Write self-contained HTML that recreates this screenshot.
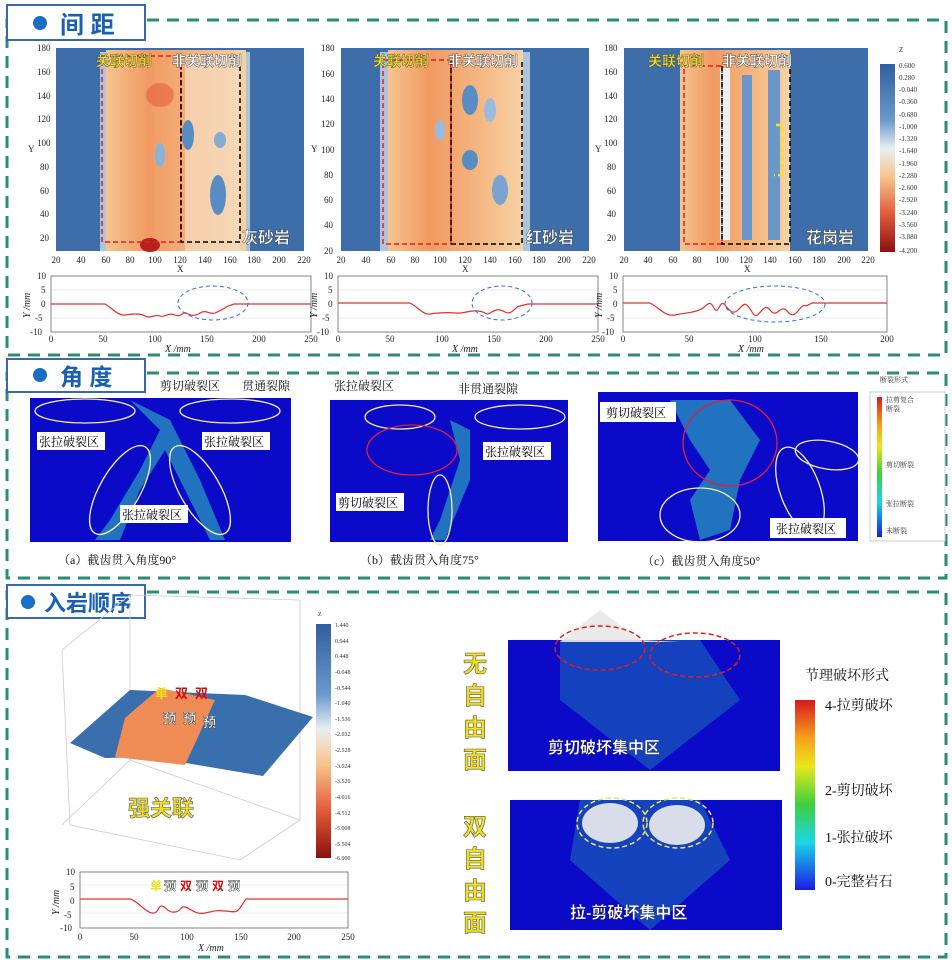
<!DOCTYPE html>
<html><head><meta charset="utf-8"><style>
body{margin:0;background:#fff;}
svg{display:block;font-family:"Liberation Serif","Noto Serif CJK SC",serif;}
.h{font-family:"Liberation Sans","Noto Sans CJK SC",sans-serif;font-weight:bold;}
.t{font-size:9px;fill:#222}
.c{font-family:"Liberation Serif","Noto Serif CJK SC",serif;}
.m{text-anchor:middle}
</style></head><body>
<svg width="952" height="960" viewBox="0 0 952 960" xmlns="http://www.w3.org/2000/svg">
<defs>
<linearGradient id="or" x1="0" x2="1" y1="0" y2="0">
<stop offset="0" stop-color="#f6c48e"/><stop offset="0.3" stop-color="#f19a63"/><stop offset="0.6" stop-color="#f4b07a"/><stop offset="1" stop-color="#f7d3a6"/></linearGradient>
<linearGradient id="cbz" x1="0" x2="0" y1="0" y2="1">
<stop offset="0" stop-color="#2f5f9e"/><stop offset="0.3" stop-color="#6a9acb"/><stop offset="0.45" stop-color="#e9eef2"/><stop offset="0.6" stop-color="#f7c48a"/><stop offset="0.8" stop-color="#e05a3a"/><stop offset="1" stop-color="#8a1010"/></linearGradient>
<linearGradient id="jet" x1="0" x2="0" y1="0" y2="1">
<stop offset="0" stop-color="#d7191c"/><stop offset="0.2" stop-color="#f9a01b"/><stop offset="0.35" stop-color="#e8e81a"/><stop offset="0.55" stop-color="#3fcf3f"/><stop offset="0.75" stop-color="#1ad7e6"/><stop offset="1" stop-color="#1a1ae6"/></linearGradient>
</defs>

<rect x="7" y="20" width="939" height="335" fill="none" stroke="#2e8b74" stroke-width="3" stroke-dasharray="12,8"/>
<rect x="7" y="373" width="939" height="205" fill="none" stroke="#2e8b74" stroke-width="3" stroke-dasharray="12,8"/>
<rect x="7" y="592" width="939" height="365" fill="none" stroke="#2e8b74" stroke-width="3" stroke-dasharray="12,8"/>

<g>
<rect x="7" y="5" width="138" height="35" fill="#fff" stroke="#3a68a8" stroke-width="2"/>
<circle cx="40" cy="23" r="7" fill="#1a6fc4"/>
<text x="60" y="33" class="h" font-size="24" fill="#1a5fb0">间 距</text>
<rect x="7" y="359" width="138" height="33" fill="#fff" stroke="#3a68a8" stroke-width="2"/>
<circle cx="40" cy="375" r="7" fill="#1a6fc4"/>
<text x="60" y="385" class="h" font-size="23" fill="#1a5fb0">角 度</text>
<rect x="7" y="585" width="138" height="33" fill="#fff" stroke="#3a68a8" stroke-width="2"/>
<circle cx="28" cy="602" r="7" fill="#1a6fc4"/>
<text x="44" y="611" class="h" font-size="22" fill="#1a5fb0">入岩顺序</text>
</g>

<!-- heatmaps -->
<g>
<rect x="56" y="48" width="248" height="203" fill="#3d6eaa"/>
<rect x="100" y="52" width="150" height="199" fill="#c9dbe9" opacity="0.8"/>
<rect x="106" y="50" width="140" height="201" fill="url(#or)"/>
<rect x="185" y="55" width="55" height="196" fill="#f7dcc0" opacity="0.7"/>
<ellipse cx="218" cy="195" rx="8" ry="20" fill="#5a8cc4"/><ellipse cx="188" cy="135" rx="6" ry="15" fill="#5a8cc4"/><ellipse cx="220" cy="140" rx="6" ry="8" fill="#86acd5"/><ellipse cx="160" cy="155" rx="5" ry="12" fill="#8ab2da"/>
<ellipse cx="160" cy="95" rx="14" ry="12" fill="#e5603c" opacity="0.6"/><ellipse cx="150" cy="245" rx="10" ry="7" fill="#b82020"/>
<rect x="102" y="56" width="79" height="186" fill="none" stroke="#e02020" stroke-width="1.5" stroke-dasharray="5,3"/>
<path d="M181 56V242H240V56" fill="none" stroke="#000" stroke-width="1.5" stroke-dasharray="5,3"/>
<text x="96" y="66" class="h" font-size="14" fill="#f0e020" stroke="#444" stroke-width="0.4">关联切削</text>
<text x="172" y="66" class="h" font-size="14" fill="#fff" stroke="#333" stroke-width="0.4">非关联切削</text>
<text x="242" y="243" class="h" font-size="16" fill="#fff" stroke="#333" stroke-width="0.4">灰砂岩</text>
</g>
<g>
<rect x="341" y="48" width="248" height="203" fill="#3d6eaa"/>
<rect x="380" y="52" width="150" height="199" fill="#c9dbe9" opacity="0.8"/>
<rect x="388" y="50" width="135" height="201" fill="url(#or)"/>
<ellipse cx="470" cy="100" rx="8" ry="15" fill="#5a8cc4"/><ellipse cx="470" cy="160" rx="8" ry="10" fill="#5a8cc4"/><ellipse cx="500" cy="190" rx="8" ry="15" fill="#7aa3d0"/><ellipse cx="440" cy="130" rx="5" ry="10" fill="#9abbe0"/><ellipse cx="490" cy="110" rx="6" ry="12" fill="#9abbe0"/>
<rect x="383" y="60" width="68" height="184" fill="none" stroke="#e02020" stroke-width="1.5" stroke-dasharray="5,3"/>
<path d="M451 60V244H522V60" fill="none" stroke="#000" stroke-width="1.5" stroke-dasharray="5,3"/>
<text x="373" y="66" class="h" font-size="14" fill="#f0e020" stroke="#444" stroke-width="0.4">关联切削</text>
<text x="448" y="66" class="h" font-size="14" fill="#fff" stroke="#333" stroke-width="0.4">非关联切削</text>
<text x="526" y="243" class="h" font-size="16" fill="#fff" stroke="#333" stroke-width="0.4">红砂岩</text>
</g>
<g>
<rect x="624" y="48" width="244" height="203" fill="#3d6eaa"/>
<rect x="680" y="50" width="110" height="201" fill="url(#or)"/>
<rect x="720" y="68" width="10" height="172" fill="#e9f0f6"/><rect x="742" y="75" width="10" height="165" fill="#6a97c8"/><rect x="768" y="70" width="12" height="170" fill="#6a97c8"/>
<rect x="684" y="66" width="38" height="178" fill="none" stroke="#e02020" stroke-width="1.5" stroke-dasharray="5,3"/>
<path d="M722 66V244H790V66" fill="none" stroke="#000" stroke-width="1.5" stroke-dasharray="5,3"/>
<path d="M776 125H782V175H774" fill="none" stroke="#f5e020" stroke-width="2.5" stroke-dasharray="6,3"/>
<text x="648" y="66" class="h" font-size="14" fill="#f0e020" stroke="#444" stroke-width="0.4">关联切削</text>
<text x="722" y="66" class="h" font-size="14" fill="#fff" stroke="#333" stroke-width="0.4">非关联切削</text>
<text x="806" y="243" class="h" font-size="16" fill="#fff" stroke="#333" stroke-width="0.4">花岗岩</text>
</g>
<g class="t" font-size="8">
<text x="37" y="51">180</text><text x="37" y="75">160</text><text x="37" y="99">140</text><text x="37" y="122">120</text><text x="37" y="146">100</text><text x="40" y="170">80</text><text x="40" y="194">60</text><text x="40" y="217">40</text><text x="40" y="241">20</text>
<text x="28" y="152">Y</text>
<g class="m"><text x="56" y="263">20</text><text x="81" y="263">40</text><text x="106" y="263">60</text><text x="130" y="263">80</text><text x="155" y="263">100</text><text x="180" y="263">120</text><text x="205" y="263">140</text><text x="230" y="263">160</text><text x="254" y="263">180</text><text x="279" y="263">200</text><text x="304" y="263">220</text></g>
<text x="177" y="272">X</text>
<text x="321" y="51">180</text><text x="321" y="77">160</text><text x="321" y="102">140</text><text x="321" y="127">120</text><text x="321" y="153">100</text><text x="324" y="178">80</text><text x="324" y="203">60</text><text x="324" y="228">40</text><text x="324" y="254">20</text>
<text x="311" y="152">Y</text>
<g class="m"><text x="341" y="263">20</text><text x="366" y="263">40</text><text x="391" y="263">60</text><text x="415" y="263">80</text><text x="440" y="263">100</text><text x="465" y="263">120</text><text x="490" y="263">140</text><text x="515" y="263">160</text><text x="539" y="263">180</text><text x="564" y="263">200</text><text x="589" y="263">220</text></g>
<text x="462" y="272">X</text>
<text x="604" y="51">180</text><text x="604" y="75">160</text><text x="604" y="99">140</text><text x="604" y="122">120</text><text x="604" y="146">100</text><text x="607" y="170">80</text><text x="607" y="194">60</text><text x="607" y="217">40</text><text x="607" y="241">20</text>
<text x="595" y="152">Y</text>
<g class="m"><text x="624" y="263">20</text><text x="648" y="263">40</text><text x="673" y="263">60</text><text x="697" y="263">80</text><text x="722" y="263">100</text><text x="746" y="263">120</text><text x="770" y="263">140</text><text x="795" y="263">160</text><text x="819" y="263">180</text><text x="844" y="263">200</text><text x="868" y="263">220</text></g>
<text x="744" y="272">X</text>
</g>
<rect x="880" y="64" width="15" height="188" fill="url(#cbz)"/>
<g font-size="7" fill="#333">
<text x="899" y="52">Z</text>
<text x="899" y="68">0.600</text><text x="899" y="80">0.280</text><text x="899" y="92">-0.040</text><text x="899" y="104">-0.360</text><text x="899" y="117">-0.680</text><text x="899" y="129">-1.000</text><text x="899" y="141">-1.320</text><text x="899" y="153">-1.640</text><text x="899" y="166">-1.960</text><text x="899" y="178">-2.280</text><text x="899" y="190">-2.600</text><text x="899" y="202">-2.920</text><text x="899" y="215">-3.240</text><text x="899" y="227">-3.560</text><text x="899" y="239">-3.880</text><text x="899" y="253">-4.200</text>
</g>

<!-- line plots -->
<g fill="none">
<g stroke="#ddd" stroke-width="0.5"><path d="M51 290H311M51 318H311M338 290H598M338 318H598M623 290H887M623 318H887"/></g>
<rect x="51" y="276" width="260" height="56" stroke="#666" stroke-width="0.8"/>
<path d="M51 304H105C112 308 118 316 125 315S140 313 145 316S155 314 160 316S168 312 175 315S182 311 186 313S194 317 200 313S210 315 215 313S222 310 228 306L234 304H311" stroke="#e03030" stroke-width="1.2"/>
<ellipse cx="213" cy="303" rx="35" ry="17" stroke="#3070e0" stroke-dasharray="4,3"/>
<rect x="338" y="276" width="260" height="56" stroke="#666" stroke-width="0.8"/>
<path d="M338 303H410C418 307 423 315 430 314S445 312 455 313S468 310 478 311S485 316 490 313S498 308 505 312S515 306 520 306L528 304H598" stroke="#e03030" stroke-width="1.2"/>
<ellipse cx="502" cy="303" rx="30" ry="17" stroke="#3070e0" stroke-dasharray="4,3"/>
<rect x="623" y="276" width="264" height="56" stroke="#666" stroke-width="0.8"/>
<path d="M623 303H650C660 308 665 317 675 315S698 312 703 308S710 300 714 308S720 300 724 304S732 316 738 310S745 300 752 312S762 300 770 310S780 302 788 312S800 302 806 306L812 303H887" stroke="#e03030" stroke-width="1.2"/>
<ellipse cx="775" cy="304" rx="50" ry="18" stroke="#3070e0" stroke-dasharray="4,3"/>
</g>
<g class="t" font-size="8">
<text x="37" y="279">10</text><text x="41" y="293">5</text><text x="41" y="307">0</text><text x="35" y="321">-5</text><text x="30" y="335">-10</text>
<g class="m"><text x="51" y="342">0</text><text x="103" y="342">50</text><text x="155" y="342">100</text><text x="207" y="342">150</text><text x="259" y="342">200</text><text x="311" y="342">250</text></g>
<text x="165" y="352" font-style="italic" font-size="10">X /mm</text>
<text x="324" y="279">10</text><text x="328" y="293">5</text><text x="328" y="307">0</text><text x="322" y="321">-5</text><text x="317" y="335">-10</text>
<g class="m"><text x="338" y="342">0</text><text x="390" y="342">50</text><text x="442" y="342">100</text><text x="494" y="342">150</text><text x="546" y="342">200</text><text x="598" y="342">250</text></g>
<text x="452" y="352" font-style="italic" font-size="10">X /mm</text>
<text x="609" y="279">10</text><text x="613" y="293">5</text><text x="613" y="307">0</text><text x="607" y="321">-5</text><text x="602" y="335">-10</text>
<g class="m"><text x="623" y="342">0</text><text x="689" y="342">50</text><text x="755" y="342">100</text><text x="821" y="342">150</text><text x="887" y="342">200</text></g>
<text x="738" y="352" font-style="italic" font-size="10">X /mm</text>
<g transform="rotate(-90)" font-style="italic" font-size="10"><text x="-318" y="30">Y /mm</text><text x="-318" y="317">Y /mm</text><text x="-318" y="602">Y /mm</text></g>
</g>

<!-- section 2 -->
<rect x="30" y="398" width="261" height="144" fill="#0a0ac8"/>
<rect x="330" y="400" width="238" height="142" fill="#0a0ac8"/>
<rect x="598" y="392" width="260" height="149" fill="#0a0ac8"/>
<g fill="#35c8b8" opacity="0.55">
<path d="M130 400L160 430L140 470L110 520L95 540L120 540L140 490L165 450L190 500L210 540L225 540L200 480L170 420Z"/>
<path d="M420 405L450 420L460 460L440 520L430 540L445 540L470 480L470 430Z"/>
<path d="M670 400L730 400L760 440L740 480L730 530L700 540L690 500L710 470L690 440Z"/>
</g>
<g fill="none" stroke-width="1.3">
<ellipse cx="85" cy="411" rx="50" ry="12" stroke="#f0f0a0"/><ellipse cx="230" cy="411" rx="50" ry="12" stroke="#f0f0a0"/>
<ellipse cx="120" cy="490" rx="20" ry="50" stroke="#f0f0a0" transform="rotate(30 120 490)"/><ellipse cx="200" cy="490" rx="20" ry="50" stroke="#f0f0a0" transform="rotate(-30 200 490)"/>
<ellipse cx="400" cy="417" rx="35" ry="12" stroke="#f0f0a0"/><ellipse cx="520" cy="417" rx="45" ry="12" stroke="#f0f0a0"/>
<ellipse cx="440" cy="510" rx="12" ry="35" stroke="#f0f0a0"/><ellipse cx="412" cy="450" rx="45" ry="25" stroke="#e02040"/>
<ellipse cx="730" cy="443" rx="47" ry="43" stroke="#e02040"/><ellipse cx="700" cy="515" rx="40" ry="27" stroke="#f0f0a0"/><ellipse cx="800" cy="490" rx="20" ry="45" stroke="#f0f0a0" transform="rotate(-20 800 490)"/><ellipse cx="827" cy="455" rx="32" ry="14" stroke="#f0f0a0" transform="rotate(10 827 455)"/>
</g>
<g class="c" font-size="12">
<rect x="37" y="432" width="68" height="18" fill="#fff"/><text x="39" y="446" fill="#000">张拉破裂区</text>
<rect x="202" y="432" width="68" height="18" fill="#fff"/><text x="204" y="446" fill="#000">张拉破裂区</text>
<rect x="120" y="505" width="68" height="18" fill="#fff"/><text x="122" y="519" fill="#000">张拉破裂区</text>
<rect x="483" y="442" width="68" height="18" fill="#fff"/><text x="485" y="456" fill="#000">张拉破裂区</text>
<rect x="336" y="493" width="68" height="18" fill="#fff"/><text x="338" y="507" fill="#000">剪切破裂区</text>
<rect x="600" y="402" width="76" height="20" fill="#fff"/><text x="606" y="417" fill="#000">剪切破裂区</text>
<rect x="770" y="518" width="76" height="20" fill="#fff"/><text x="776" y="533" fill="#000">张拉破裂区</text>
</g>
<g class="c" font-size="12" fill="#111">
<text x="160" y="390">剪切破裂区</text><text x="242" y="390">贯通裂隙</text>
<text x="334" y="390">张拉破裂区</text><text x="458" y="393">非贯通裂隙</text>
<text x="58" y="564">（a）截齿贯入角度90°</text>
<text x="360" y="564">（b）截齿贯入角度75°</text>
<text x="642" y="565">（c）截齿贯入角度50°</text>
</g>
<rect x="870" y="392" width="75" height="149" fill="#fff" stroke="#ccc"/>
<rect x="877" y="397" width="5" height="140" fill="url(#jet)"/>
<g class="c" font-size="7" fill="#333"><text x="880" y="382">断裂形式</text><text x="886" y="402">拉剪复合</text><text x="886" y="411">断裂</text><text x="886" y="467">剪切断裂</text><text x="886" y="506">张拉断裂</text><text x="886" y="533">未断裂</text></g>

<!-- section 3 -->
<g stroke="#ccc" fill="none" stroke-width="0.8">
<path d="M62 650L130 595L300 600L300 820L240 860L70 825Z"/>
<path d="M130 595L130 760L300 820M130 760L62 825"/>
</g>
<path d="M70 743L130 690L245 695L313 717L263 776L150 757L105 758Z" fill="#3a6fae"/>
<path d="M125 718L160 688L215 700L185 765L115 757Z" fill="#ef8c55"/>
<text x="128" y="816" class="h" font-size="22" fill="#f2e020" stroke="#555" stroke-width="0.6">强关联</text>
<g class="h" font-size="13"><text x="155" y="698" fill="#f0e020">单</text><text x="175" y="698" fill="#d01010">双</text><text x="195" y="698" fill="#d01010">双</text><text x="163" y="723" fill="#fff" stroke="#333" stroke-width="0.4">预</text><text x="183" y="723" fill="#fff" stroke="#333" stroke-width="0.4">预</text><text x="203" y="727" fill="#fff" stroke="#333" stroke-width="0.4">预</text></g>
<rect x="316" y="624" width="15" height="234" fill="url(#cbz)"/>
<g font-size="6" fill="#333"><text x="318" y="616">Z</text>
<text x="335" y="627">1.440</text><text x="335" y="643">0.944</text><text x="335" y="658">0.448</text><text x="335" y="674">-0.048</text><text x="335" y="690">-0.544</text><text x="335" y="705">-1.040</text><text x="335" y="721">-1.536</text><text x="335" y="736">-2.032</text><text x="335" y="752">-2.528</text><text x="335" y="768">-3.024</text><text x="335" y="783">-3.520</text><text x="335" y="799">-4.016</text><text x="335" y="815">-4.512</text><text x="335" y="830">-5.008</text><text x="335" y="846">-5.504</text><text x="335" y="860">-6.000</text></g>
<g stroke="#ddd" stroke-width="0.5"><path d="M80 885H348M80 913H348"/></g>
<rect x="80" y="872" width="268" height="56" fill="none" stroke="#666" stroke-width="0.8"/>
<path d="M80 899H130C138 901 145 912 152 913S158 905 162 906S168 913 175 912S180 906 185 907S195 915 205 913S215 910 225 911S236 913 240 908L246 899H348" fill="none" stroke="#e03030" stroke-width="1.2"/>
<g class="h" font-size="12"><text x="150" y="890" fill="#f0e020">单</text><text x="164" y="890" fill="#fff" stroke="#333" stroke-width="0.4">预</text><text x="180" y="890" fill="#d01010">双</text><text x="196" y="890" fill="#fff" stroke="#333" stroke-width="0.4">预</text><text x="212" y="890" fill="#d01010">双</text><text x="228" y="890" fill="#fff" stroke="#333" stroke-width="0.4">预</text></g>
<g class="t" font-size="8"><text x="66" y="875">10</text><text x="70" y="890">5</text><text x="70" y="904">0</text><text x="64" y="918">-5</text><text x="60" y="931">-10</text>
<g class="m"><text x="80" y="940">0</text><text x="134" y="940">50</text><text x="187" y="940">100</text><text x="241" y="940">150</text><text x="294" y="940">200</text><text x="348" y="940">250</text></g>
<text x="198" y="951" font-style="italic" font-size="10">X /mm</text>
<text transform="rotate(-90)" x="-915" y="59" font-style="italic" font-size="10">Y /mm</text></g>

<g class="h" font-size="24" fill="#f2e020" stroke="#555" stroke-width="0.6">
<text x="463" y="672">无</text><text x="463" y="704">自</text><text x="463" y="736">由</text><text x="463" y="768">面</text>
<text x="463" y="835">双</text><text x="463" y="867">自</text><text x="463" y="899">由</text><text x="463" y="931">面</text>
</g>
<rect x="508" y="640" width="272" height="131" fill="#0a0ac8"/>
<rect x="510" y="800" width="272" height="130" fill="#0a0ac8"/>
<g fill="#30c8a8" opacity="0.3">
<path d="M560 640L700 640L740 700L650 770L560 700Z"/>
<path d="M580 800L700 800L730 860L650 930L570 860Z"/>
</g>
<path d="M560 642L600 610L640 640L680 642Z" fill="#e8e8e8" opacity="0.9"/>
<ellipse cx="610" cy="823" rx="28" ry="20" fill="#eee" opacity="0.9"/><ellipse cx="677" cy="825" rx="28" ry="20" fill="#eee" opacity="0.9"/>
<g fill="none" stroke="#e02020" stroke-width="1.5" stroke-dasharray="5,3"><ellipse cx="600" cy="648" rx="45" ry="22"/><ellipse cx="695" cy="655" rx="45" ry="22"/></g>
<g fill="none" stroke="#f0e060" stroke-width="1.5" stroke-dasharray="5,3"><ellipse cx="612" cy="823" rx="35" ry="25"/><ellipse cx="678" cy="823" rx="35" ry="25"/></g>
<text x="548" y="753" class="h" font-size="16" fill="#fff" stroke="#222" stroke-width="0.3">剪切破坏集中区</text>
<text x="570" y="918" class="h" font-size="16" fill="#fff" stroke="#222" stroke-width="0.3">拉-剪破坏集中区</text>
<rect x="795" y="700" width="20" height="190" fill="url(#jet)"/>
<g class="c" font-size="14" fill="#111"><text x="805" y="680">节理破坏形式</text><text x="825" y="710">4-拉剪破坏</text><text x="825" y="795">2-剪切破坏</text><text x="825" y="842">1-张拉破坏</text><text x="825" y="886">0-完整岩石</text></g>
</svg>
</body></html>
